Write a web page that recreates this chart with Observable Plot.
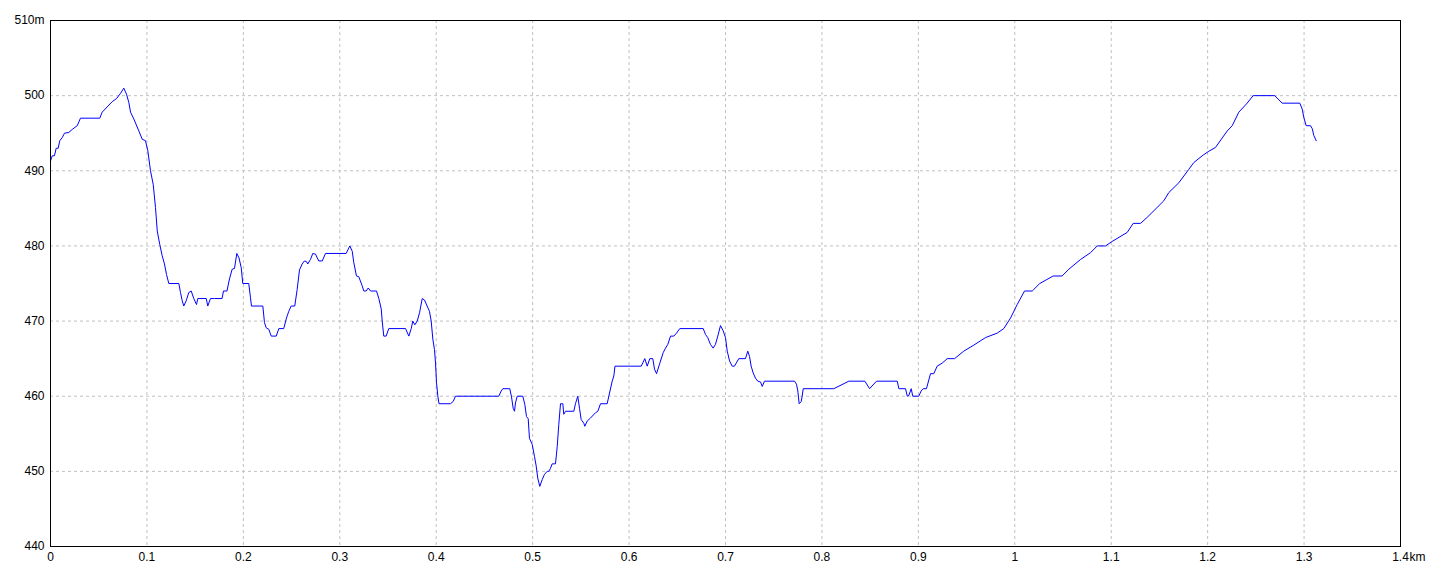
<!DOCTYPE html>
<html>
<head>
<meta charset="utf-8">
<script src="https://cdn.jsdelivr.net/npm/d3@7"></script>
<script src="https://cdn.jsdelivr.net/npm/@observablehq/plot@0.6"></script>
<style>
  html, body { margin: 0; padding: 0; background: #fff; }
  #chart svg { display: block; }
</style>
</head>
<body>
<div id="chart"></div>
<script>
// Distance along the route (metres)
const distM = [
  0, 1.8, 4.1, 5.9, 8.0, 9.6, 12.1, 14.5, 19.0, 22.5, 27.7, 31.1, 51.1, 53.6, 58.8, 64.0, 68.4, 72.6, 76.0, 78.8,
  81.2, 83.0, 86.4, 91.6, 95.1, 98.5, 100.9, 103.7, 106.5, 108.9, 110.7, 113.3, 115.8, 118.2, 120.3, 122.7, 133.1, 134.8, 136.6, 138.2,
  140.7, 143.4, 145.9, 148.6, 151.4, 152.8, 161.5, 163.1, 165.9, 170.1, 177.9, 179.4, 183.0, 185.6, 188.4, 190.8, 193.2, 195.5, 197.8, 199.4,
  205.6, 207.4, 208.4, 220.2, 221.9, 223.7, 226.4, 228.9, 234.1, 236.8, 241.9, 244.7, 247.1, 249.6, 253.3, 255.8, 258.2, 261.0, 263.4, 265.5,
  266.8, 269.6, 272.0, 274.8, 278.2, 281.8, 285.2, 306.6, 310.4, 312.9, 314.5, 317.3, 319.7, 323.2, 324.9, 327.4, 329.5, 331.9, 338.1, 340.5,
  343.0, 344.0, 345.6, 348.1, 350.8, 368.2, 371.6, 374.1, 375.7, 377.8, 380.3, 382.7, 385.5, 387.9, 390.6, 393.0, 394.8, 396.5, 398.2, 399.3,
  400.3, 401.7, 402.9, 414.8, 417.6, 420.0, 464.9, 467.4, 469.1, 476.3, 478.1, 479.8, 481.2, 482.2, 484.0, 489.8, 491.9, 493.6, 495.4, 496.7,
  499.5, 501.9, 503.7, 505.3, 507.4, 509.9, 512.3, 515.1, 516.8, 518.5, 520.3, 523.7, 525.5, 527.1, 528.9, 531.3, 532.3, 534.1, 542.7, 544.4,
  546.8, 548.6, 550.3, 553.1, 554.1, 556.6, 560.0, 565.2, 567.6, 570.4, 577.3, 579.0, 582.5, 584.2, 585.4, 612.6, 616.3, 618.8, 621.5, 624.6,
  626.4, 628.5, 631.9, 635.4, 637.8, 640.2, 643.0, 646.4, 649.2, 652.6, 676.9, 679.3, 681.6, 684.4, 687.2, 689.6, 692.0, 694.8, 697.6, 700.0,
  701.8, 704.2, 706.9, 709.3, 713.8, 720.7, 723.1, 724.9, 726.6, 728.7, 731.1, 733.5, 736.3, 738.1, 740.4, 771.6, 773.6, 775.0, 776.4, 778.5,
  779.5, 780.6, 812.3, 827.9, 844.5, 849.4, 856.6, 878.1, 879.8, 886.7, 888.5, 890.1, 892.6, 894.2, 900.4, 902.9, 905.0, 908.4, 912.6, 916.0,
  919.5, 924.7, 929.9, 937.5, 947.1, 957.5, 969.6, 981.8, 988.6, 995.6, 1002.5, 1010.1, 1018.1, 1025.9, 1039.8, 1049.1, 1056.0, 1068.2, 1078.5, 1085.5,
  1094.1, 1101.0, 1116.6, 1122.8, 1130.4, 1137.3, 1154.5, 1159.7, 1170.1, 1180.5, 1185.7, 1195.4, 1201.2, 1208.1, 1220.3, 1225.5, 1232.3, 1240.3, 1247.2, 1269.6,
  1277.3, 1295.6, 1298.1, 1299.7, 1302.2, 1306.7, 1308.5, 1310.1, 1312.6
];

// Elevation (metres)
const elevM = [
  491.3, 492, 492, 493, 493, 494, 494.4, 495, 495.1, 495.5, 496, 497, 497, 497.8, 498.5, 499.2, 499.6, 500.3, 501, 500.2,
  499.1, 497.8, 496.9, 495.3, 494.2, 494, 492.7, 490, 488.2, 485.1, 482, 480.2, 478.7, 477.6, 476.2, 475, 475, 473.8, 472.7, 472,
  472.7, 473.8, 474, 473, 472.2, 473, 473, 472, 473, 473, 473, 474, 474, 475.6, 476.9, 477, 479, 478.4, 477.1, 475,
  475, 473.1, 472, 472, 469.8, 469.1, 468.9, 468, 468, 469, 469, 470.4, 471.3, 472, 472, 474.2, 476.8, 477.6, 478, 477.9,
  477.6, 478.2, 479, 478.9, 478, 478, 479, 479, 480, 479.3, 477.8, 476, 475.9, 474.7, 474, 474, 474.4, 474, 474, 473,
  471.6, 470, 468, 468, 469, 469, 468, 469, 470, 469.5, 470, 471.1, 473, 472.8, 472, 471.3, 470, 467.6, 466.2, 464.4,
  461.8, 460, 459, 459, 459.3, 460, 460, 460.7, 461, 461, 459.9, 458.4, 458, 459.1, 460, 460, 458.9, 457.3, 457, 454.4,
  453.6, 452, 450.7, 449.1, 448, 448.9, 449.6, 450, 450, 450.4, 451, 451, 453.3, 456.2, 459, 459, 457.6, 458, 458, 459,
  460, 458.4, 456.9, 456.4, 456, 456.7, 457.1, 457.8, 458, 459, 459, 460, 462, 462.7, 464, 464, 465, 464, 465, 465,
  463.6, 463, 464.4, 465.8, 466.4, 466.9, 468, 468, 468.4, 469, 469, 468.2, 467.8, 466.9, 466.4, 466.9, 468, 469.4, 468.7, 467.8,
  466, 464.7, 464, 464, 465, 465, 466, 465.3, 464, 463.1, 462.4, 462, 461.9, 461.3, 462, 462, 461.6, 460.7, 459, 459.3,
  460, 461, 461, 462, 462, 461, 462, 462, 461, 461, 460, 460.1, 461, 460, 460, 460.7, 461, 461, 463, 463,
  464, 464.4, 465, 465, 466, 466.8, 467.8, 468.4, 469, 470.4, 472.2, 474, 474, 475, 476, 476, 476.9, 478.2, 479.1, 480,
  480, 480.6, 481.8, 483, 483, 483.8, 486, 487.1, 488.4, 490.2, 491.1, 492.1, 492.6, 493.1, 495.3, 496, 497.8, 498.9, 500, 500,
  499, 499, 498.2, 497.1, 496, 496, 495.6, 494.7, 494
];

// Axis ticks
const xTicks = [0, 0.1, 0.2, 0.3, 0.4, 0.5, 0.6, 0.7, 0.8, 0.9, 1.0, 1.1, 1.2, 1.3, 1.4];
const xTickLabels = ["0", "0.1", "0.2", "0.3", "0.4", "0.5", "0.6", "0.7", "0.8", "0.9", "1", "1.1", "1.2", "1.3", "1.4"];
const xUnit = "km";
const yTicks = [440, 450, 460, 470, 480, 490, 500, 510];
const yTickLabels = ["440", "450", "460", "470", "480", "490", "500", "510m"];

const data = distM.map((d, i) => ({km: d / 1000, elev: elevM[i]}));

const gridStyle = {stroke: "#c0c0c0", strokeOpacity: 1, strokeWidth: 1, strokeDasharray: "3,3"};

const chart = Plot.plot({
  width: 1440,
  height: 576,
  marginLeft: 50,
  marginRight: 40,
  marginTop: 20,
  marginBottom: 30,
  style: {fontFamily: "'Liberation Sans Narrow', 'Liberation Sans', Arial, sans-serif", fontSize: "12px", color: "#000", background: "#fff"},
  x: {domain: [0, 1.4]},
  y: {domain: [440, 510]},
  marks: [
    Plot.gridX(xTicks, gridStyle),
    Plot.gridY(yTicks, gridStyle),
    Plot.axisX({ticks: xTicks, tickSize: 0, tickPadding: 6, tickFormat: (d) => xTickLabels[xTicks.indexOf(d)], label: null}),
    Plot.text([xTicks[xTicks.length - 1]], {x: (d) => d, text: () => xUnit, frameAnchor: "bottom", lineAnchor: "top", dy: 6, dx: 9, textAnchor: "start", fill: "#000"}),
    Plot.axisY({ticks: yTicks, tickSize: 0, tickPadding: 6, tickFormat: (d) => yTickLabels[yTicks.indexOf(d)], label: null}),
    Plot.line(data, {x: "km", y: "elev", stroke: "#0000ff", strokeWidth: 1}),
    Plot.frame({stroke: "#000", strokeWidth: 1})
  ]
});

document.getElementById("chart").appendChild(chart);
</script>
</body>
</html>
